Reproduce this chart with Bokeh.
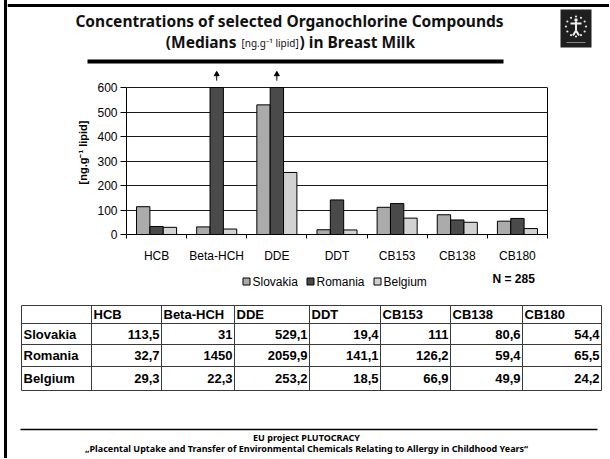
import math
from bokeh.plotting import figure
from bokeh.layouts import column, row
from bokeh.models import Range1d, FixedTicker, Spacer, LinearAxis
from bokeh.embed import file_html
from bokeh.resources import INLINE
from bokeh.core.properties import value

# ---------------- data ----------------
categories = ["HCB", "Beta-HCH", "DDE", "DDT", "CB153", "CB138", "CB180"]
countries = ["Slovakia", "Romania", "Belgium"]
slovakia = [113.5, 31, 529.1, 19.4, 111, 80.6, 54.4]
romania = [32.7, 1450, 2059.9, 141.1, 126.2, 59.4, 65.5]
belgium = [29.3, 22.3, 253.2, 18.5, 66.9, 49.9, 24.2]
y_ticks = [0, 100, 200, 300, 400, 500, 600]
y_cap = 600
n_total = 285

title_1 = "Concentrations of selected Organochlorine Compounds"
title_2a = "(Medians "
title_2b = "[ng.g\u207b\u00b9 lipid]"
title_2c = ") in Breast Milk"
y_label = "[ng.g\u207b\u00b9 lipid]"
footer_1 = "EU project PLUTOCRACY"
footer_2 = "\u201ePlacental Uptake and Transfer of Environmental Chemicals Relating to Allergy in Childhood Years\u201c"

series = [slovakia, romania, belgium]
colors = ["#ababab", "#4a4a4a", "#d2d2d2"]

FONT = value("Liberation Sans")
TFONT = value("Noto Sans")

X0 = 7      # page x where the figures start (after the slide's left border)
W = 602     # figure width


def blank(p):
    p.outline_line_color = None
    p.grid.visible = False
    p.background_fill_color = "white"
    p.border_fill_color = "white"


def page_fig(y_top, y_bot):
    p = figure(width=W, height=y_bot - y_top, x_range=Range1d(X0, X0 + W),
               y_range=Range1d(y_bot, y_top), toolbar_location=None, output_backend="svg",
               x_axis_type=None, y_axis_type=None, min_border=0, min_border_left=0,
               min_border_right=0, min_border_top=0, min_border_bottom=0)
    p.frame_align = False
    blank(p)
    return p


# ---------------- header ----------------
hdr = page_fig(0, 66)
hdr.quad(left=[X0], right=[X0 + W], top=[3.5], bottom=[6.5], color="black", line_color=None)
hdr.text(x=[289], y=[20], text=[title_1], text_font=TFONT, text_font_size="15.5px",
         text_font_style="bold", text_align="center", text_baseline="middle", text_color="#111")
hdr.text(x=[240], y=[41], text=[title_2a], text_font=TFONT, text_font_size="15.5px",
         text_font_style="bold", text_align="right", text_baseline="middle", text_color="#111")
hdr.text(x=[241], y=[42], text=[title_2b], text_font=TFONT, text_font_size="10px",
         text_align="left", text_baseline="middle", text_color="#111")
hdr.text(x=[299], y=[41], text=[title_2c], text_font=TFONT, text_font_size="15.5px",
         text_font_style="bold", text_align="left", text_baseline="middle", text_color="#111")
hdr.quad(left=[87], right=[503], top=[59], bottom=[63], color="black", line_color=None)
# logo
hdr.quad(left=[560], right=[591], top=[9], bottom=[47], color="#1f1f1f", line_color=None)
ang = [2 * math.pi * k / 12 for k in range(12)]
hdr.scatter(x=[575.5 + 10 * math.cos(a) for a in ang], y=[26 + 10 * math.sin(a) for a in ang],
            size=2.2, color="#e8e8e8", line_color=None)
hdr.scatter(x=[575.5], y=[19.5], size=3.5, color="#f0f0f0", line_color=None)
hdr.multi_line(xs=[[575.5, 575.5], [570, 581], [575.5, 572.5], [575.5, 578.5]],
               ys=[[21, 30], [23, 23], [30, 35], [30, 35]], line_color="#f0f0f0", line_width=2)
hdr.segment(x0=[566], y0=[42], x1=[585], y1=[42], line_color="#888", line_width=1)

# ---------------- chart ----------------
CH_TOP, CH_BOT = 66, 270
ch = figure(width=W, height=CH_BOT - CH_TOP, x_range=Range1d(0, 7), y_range=Range1d(0, 669.4),
            toolbar_location=None, output_backend="svg",
            min_border_left=126 - X0, min_border_right=X0 + W - 547,
            min_border_top=70 - CH_TOP, min_border_bottom=CH_BOT - 234)
ch.frame_align = False
ch.outline_line_color = None
ch.xgrid.visible = False
ch.ygrid.ticker = FixedTicker(ticks=y_ticks)
ch.ygrid.grid_line_color = "#1a1a1a"
ch.ygrid.grid_line_width = 1

ya = ch.yaxis[0]
ya.ticker = FixedTicker(ticks=y_ticks)
ya.bounds = (0, y_cap)
ya.major_tick_out = 6
ya.major_tick_in = 0
ya.minor_tick_out = 0
ya.minor_tick_in = 0
ya.axis_line_color = "black"
ya.major_tick_line_color = "black"
ya.major_label_text_font = "Liberation Sans"
ya.major_label_text_font_size = "12px"
ya.major_label_text_color = "black"
ya.major_label_standoff = 3
ya.axis_label = y_label
ya.axis_label_text_font = "Liberation Sans"
ya.axis_label_text_font_size = "11px"
ya.axis_label_text_font_style = "bold"
ya.axis_label_text_color = "black"
ya.axis_label_standoff = 5

centers = [i + 0.5 for i in range(len(categories))]
xa = ch.xaxis[0]
xa.ticker = FixedTicker(ticks=centers, minor_ticks=list(range(len(categories) + 1)))
xa.major_label_overrides = {c: name for c, name in zip(centers, categories)}
xa.major_tick_out = 0
xa.major_tick_in = 0
xa.minor_tick_out = 4
xa.minor_tick_in = 0
xa.minor_tick_line_color = "black"
xa.axis_line_color = "black"
xa.major_label_text_font = "Liberation Sans"
xa.major_label_text_font_size = "12px"
xa.major_label_text_color = "black"
xa.major_label_standoff = 10

ra = LinearAxis(ticker=FixedTicker(ticks=[]), bounds=(0, y_cap), axis_line_color="black",
                major_tick_out=0, minor_tick_out=0)
ch.add_layout(ra, "right")

bw = 0.222
offsets = [-bw, 0, bw]
for vals, off, col in zip(series, offsets, colors):
    xs = [c + off for c in centers]
    tops = [min(v, y_cap) for v in vals]
    ch.vbar(x=xs, top=tops, bottom=0, width=bw, fill_color=col, line_color="black", line_width=1)
    over = [x for x, v in zip(xs, vals) if v > y_cap]
    if over:
        ch.segment(x0=over, y0=[628] * len(over), x1=over, y1=[652] * len(over),
                   line_color="black", line_width=1)
        ch.scatter(x=over, y=[654] * len(over), marker="triangle", size=5,
                   color="black", line_color="black")

# ---------------- bottom: legend, table, footer ----------------
bot = page_fig(CH_BOT, 458)

leg_sq = [246, 310, 377]
bot.rect(x=leg_sq, y=[281] * 3, width=7, height=7, fill_color=colors, line_color="black")
bot.text(x=[s + 6 for s in leg_sq], y=[281] * 3, text=countries, text_font=FONT,
         text_font_size="12px", text_align="left", text_baseline="middle", text_color="black")
bot.text(x=[492], y=[278], text=[f"N = {n_total}"], text_font=FONT, text_font_size="12px",
         text_font_style="bold", text_align="left", text_baseline="middle", text_color="black")

col_x = [21, 91, 161, 234, 309, 380, 450, 522, 601]
row_y = [305, 323, 344, 366, 390]
lc = "#3a3a3a"
bot.segment(x0=[col_x[0]] * len(row_y), y0=row_y, x1=[col_x[-1]] * len(row_y), y1=row_y,
            line_color=lc, line_width=1)
bot.segment(x0=col_x, y0=[row_y[0]] * len(col_x), x1=col_x, y1=[row_y[-1]] * len(col_x),
            line_color=lc, line_width=1)
hy = (row_y[0] + row_y[1]) / 2
bot.text(x=[c + 2 for c in col_x[1:-1]], y=[hy] * len(categories), text=categories,
         text_font=FONT, text_font_size="13px", text_font_style="bold",
         text_align="left", text_baseline="middle", text_color="black")


def fmt(v):
    return f"{v:g}".replace(".", ",")


for r, (name, vals) in enumerate(zip(countries, series)):
    cy = (row_y[r + 1] + row_y[r + 2]) / 2
    bot.text(x=[col_x[0] + 2], y=[cy], text=[name], text_font=FONT, text_font_size="13px",
             text_font_style="bold", text_align="left", text_baseline="middle", text_color="black")
    bot.text(x=[c - 2 for c in col_x[2:]], y=[cy] * len(vals), text=[fmt(v) for v in vals],
             text_font=FONT, text_font_size="13px", text_font_style="bold",
             text_align="right", text_baseline="middle", text_color="black")

bot.segment(x0=[20], y0=[429], x1=[597], y1=[429], line_color="black", line_width=1.5)
bot.text(x=[306], y=[437], text=[footer_1], text_font=TFONT, text_font_size="9px",
         text_font_style="bold", text_align="center", text_baseline="middle", text_color="black")
bot.text(x=[306], y=[448], text=[footer_2], text_font=TFONT, text_font_size="9px",
         text_font_style="bold", text_align="center", text_baseline="middle", text_color="black")

left_gap = Spacer(width=4, height=458)
left_border = Spacer(width=3, height=458, styles={"background-color": "black"})
layout = row(left_gap, left_border, column(hdr, ch, bot, spacing=0), spacing=0)

open("out.html", "w").write(file_html(layout, INLINE))
